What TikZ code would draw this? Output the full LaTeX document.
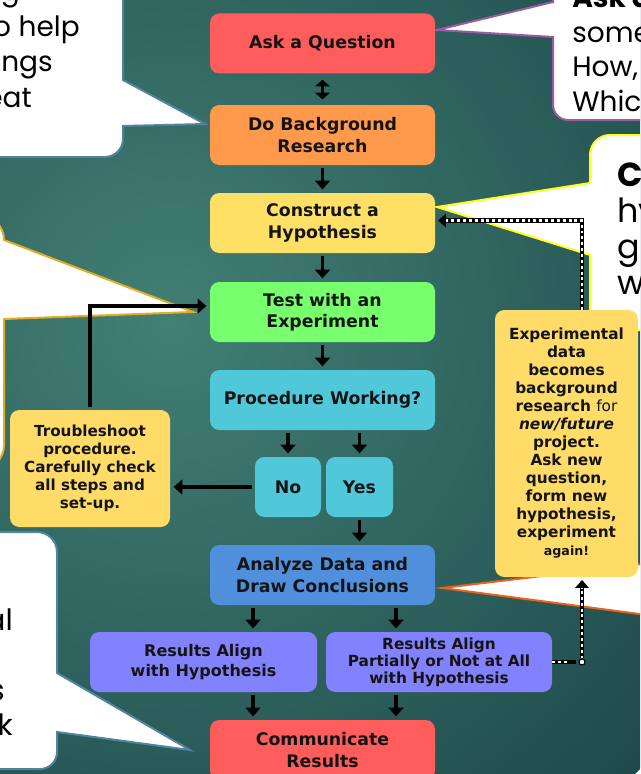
\documentclass[tikz,border=0pt]{standalone}
\usepackage{fontspec}
\setmainfont{DejaVu Sans}
\newfontfamily\callfont{Poppins}
\usetikzlibrary{arrows.meta,calc}

\definecolor{bgin}{HTML}{427F74}
\definecolor{bgout}{HTML}{1E4A4B}
\definecolor{qred}{HTML}{FF5C5C}
\definecolor{rorange}{HTML}{FF9A4D}
\definecolor{hyellow}{HTML}{FFE066}
\definecolor{nyellow}{HTML}{FFDC68}
\definecolor{egreen}{HTML}{78FF6E}
\definecolor{pcyan}{HTML}{50C8DA}
\definecolor{ablue}{HTML}{4F8FDB}
\definecolor{rviolet}{HTML}{8282FF}
\definecolor{txt}{HTML}{141414}
\definecolor{steel}{HTML}{5284A2}
\definecolor{plum}{HTML}{9A5AA6}
\definecolor{gold}{HTML}{E3AC22}
\definecolor{lemon}{HTML}{FFFF1A}
\definecolor{rust}{HTML}{E8621A}

\begin{document}
\begin{tikzpicture}[x=0.75pt,y=-0.75pt,
	box/.style={rectangle,rounded corners=7pt,fill=#1,text=txt,align=center,inner sep=0pt,
		minimum width=225*\px,minimum height=60*\px,font=\bfseries\fontsize{13}{16}\selectfont},
	arr/.style={line width=2.6pt,-{Triangle[length=6.5pt,width=11pt]},shorten <=2pt,shorten >=2.5pt},
	dotarr/.style={line width=3.6pt,-{Triangle[length=6pt,width=10pt]},shorten >=2pt,
		postaction={draw=white,-,line width=1.6pt,dash pattern=on 2.2pt off 2.2pt,shorten >=8pt}},
	callout/.style={fill=white,draw=#1,line width=1.5pt},
	calltext/.style={inner sep=0pt,text=black,font=\callfont\fontsize{21}{25}\selectfont}]
	\def\px{0.75pt} %one pixel of the slide
	
	\useasboundingbox (0,0) rectangle (640,774);
	\clip (0,0) rectangle (640,774);
	\shade[inner color=bgin,outer color=bgout] (170,320) circle (650);
	
	%CALLOUTS
	\draw[callout=steel] (-20,-20)--(123,-20)--(123,80)--(205,124)--(123,126)--(123,139)
		arc[start angle=0,end angle=90,radius=18]--(-20,157)--cycle;
	\draw[callout=plum] (553,-20)--(553,2)--(437,30)--(553,37)--(553,105)
		arc[start angle=180,end angle=90,radius=15]--(660,120)--(660,-20)--cycle;
	\draw[callout=lemon] (660,135)--(610,135) arc[start angle=-90,end angle=-180,radius=20]
		--(590,183)--(437,207)--(590,255)--(590,330)--(660,330)--cycle;
	\draw[callout=gold] (-30,215)--(-21,215) arc[start angle=-90,end angle=0,radius=25]
		--(193,312)--(4,319)--(4,445) arc[start angle=0,end angle=90,radius=25]--(-30,470)--cycle;
	\draw[callout=steel] (-20,532)--(37,532) arc[start angle=-90,end angle=0,radius=20]
		--(57,673)--(190,750)--(57,732)--(57,752) arc[start angle=0,end angle=90,radius=17]--(-20,769)--cycle;
	\draw[callout=rust] (700,557)--(442,588)--(700,622)--cycle;
	%
	\node[calltext,anchor=base east] (tl1) at (20,1) {using};
	\node[calltext,anchor=base east] (tl2) at (80,37) {to help};
	\node[calltext,anchor=base east] (tl3) at (53,72) {things};
	\node[calltext,anchor=base east] (tl4) at (32,108) {repeat};
	%
	\node[calltext,anchor=base west,font=\callfont\bfseries\fontsize{21}{25}\selectfont] (tr1) at (572,8) {Ask a Question:};
	\node[calltext,anchor=base west] (tr2) at (572,43) {something};
	\node[calltext,anchor=base west] (tr3) at (572,77) {How, What,};
	\node[calltext,anchor=base west] (tr4) at (572,111) {Which};
	%
	\node[calltext,anchor=base west,font=\callfont\bfseries\fontsize{25}{30}\selectfont] (rt1) at (617,186) {Construct a};
	\node[calltext,anchor=base west,font=\callfont\fontsize{25}{30}\selectfont] (rt2) at (617,222) {hypothesis};
	\node[calltext,anchor=base west,font=\callfont\fontsize{25}{30}\selectfont] (rt3) at (617,258) {guess};
	\node[calltext,anchor=base west,font=\callfont\fontsize{25}{30}\selectfont] (rt4) at (617,294) {will};
	%
	\node[calltext,anchor=base east,font=\callfont\bfseries\fontsize{22}{26}\selectfont] (bl1) at (2,557) {Results:};
	\node[calltext,anchor=base east,font=\callfont\fontsize{22}{26}\selectfont] (bl2) at (13,630) {final};
	\node[calltext,anchor=base east,font=\callfont\fontsize{22}{26}\selectfont] (bl3) at (5,700) {posters};
	\node[calltext,anchor=base east,font=\callfont\fontsize{22}{26}\selectfont] (bl4) at (13,735) {talk};
	
	%FLOW BOXES
	\node[box=qred] (ask) at (322.5,43.5) {Ask a Question};
	\node[box=rorange] (bkgd) at (322.5,135) {Do Background\\Research};
	\node[box=hyellow] (hyp) at (322.5,223) {Construct a\\Hypothesis};
	\node[box=egreen] (test) at (322.5,312) {Test with an\\Experiment};
	\node[box=pcyan] (proc) at (322.5,400) {Procedure Working?};
	\node[box=pcyan,minimum width=66*\px] (no) at (288,487) {No};
	\node[box=pcyan,minimum width=67*\px] (yes) at (359.5,487) {Yes};
	\node[box=ablue] (anlz) at (322.5,575) {Analyze Data and\\Draw Conclusions};
	\node[box=rviolet,minimum width=227*\px,font=\bfseries\fontsize{12}{14.5}\selectfont] (ralign) at (203.5,662) {Results Align\\with Hypothesis};
	\node[box=rviolet,minimum width=226*\px,font=\bfseries\fontsize{11.5}{12.8}\selectfont] (rpart) at (439,662) {Results Align\\Partially or Not at All\\with Hypothesis};
	\node[box=qred] (comm) at (322.5,750) {Communicate\\Results};
	%
	\node[box=nyellow,minimum width=160*\px,minimum height=117*\px,font=\bfseries\fontsize{11.4}{13.5}\selectfont] (trbl) at (90,468.5)
		{Troubleshoot\\procedure.\\Carefully check\\all steps and\\set-up.};
	\node[box=nyellow,minimum width=143*\px,minimum height=267*\px,font=\bfseries\fontsize{11.5}{13.5}\selectfont] (expdata) at (566.5,443.5)
		{Experimental\\data\\becomes\\background\\research {\mdseries for}\\\textit{new/future}\\project.\\Ask new\\question,\\form new\\hypothesis,\\experiment\\{\fontsize{9.5}{13.5}\selectfont again!}};
	
	%ARROWS
	\draw[arr,{Triangle[length=5pt,width=11pt]}-{Triangle[length=5pt,width=11pt]},shorten <=4.5pt,shorten >=4pt] (ask)--(bkgd);
	\draw[arr] (bkgd)--(hyp);
	\draw[arr] (hyp)--(test);
	\draw[arr] (test)--(proc);
	\draw[arr] (proc.south -| no)--(no);
	\draw[arr] (proc.south -| yes)--(yes);
	\draw[arr] (no.west)--(no.west -| trbl.east);
	\draw[arr] (trbl)|-($(test.west)+(0,-6)$);
	\draw[arr] (yes)--(yes |- anlz.north);
	%
	\coordinate (cl) at (253,0);
	\coordinate (cr) at (396,0);
	\draw[arr] (anlz.south -| cl)--(ralign.north -| cl);
	\draw[arr] (anlz.south -| cr)--(rpart.north -| cr);
	\draw[arr] (ralign.south -| cl)--(comm.north -| cl);
	\draw[arr] (rpart.south -| cr)--(comm.north -| cr);
	
	%DOTTED RETURN
	\coordinate (dc) at (582,0);
	\draw[dotarr] (expdata.north -| dc)|-($(hyp.east)+(0,-2.5)$);
	\node[circle,draw,fill=white,line width=0.8pt,inner sep=0pt,minimum size=6*\px] (turn) at (rpart.east -| dc) {};
	\draw[dotarr,-] (rpart.east)--(turn);
	\draw[dotarr] (turn)--(expdata.south -| turn);
\end{tikzpicture}
\end{document}
